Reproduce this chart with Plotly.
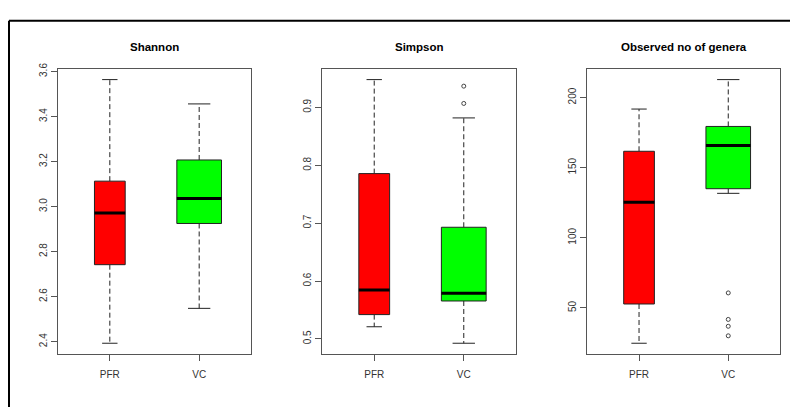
import plotly.graph_objects as go

# ---------------- data ----------------
groups = ["PFR", "VC"]
panel_titles = ["Shannon", "Simpson", "Observed no of genera"]

# five-number summaries per panel: [PFR, VC]
shannon_low = [2.393, 2.548]
shannon_q1 = [2.742, 2.925]
shannon_med = [2.972, 3.036]
shannon_q3 = [3.113, 3.207]
shannon_high = [3.564, 3.456]
shannon_out = [[], []]

simpson_low = [0.521, 0.4925]
simpson_q1 = [0.542, 0.5655]
simpson_med = [0.5847, 0.579]
simpson_q3 = [0.7856, 0.6929]
simpson_high = [0.948, 0.8818]
simpson_out = [[], [0.9068, 0.9367]]

genera_low = [24.8, 131.7]
genera_q1 = [52.8, 135.0]
genera_med = [125.4, 165.9]
genera_q3 = [161.7, 179.4]
genera_high = [191.8, 212.8]
genera_out = [[], [30.1, 36.9, 41.8, 60.7]]

shannon_ticks = [2.4, 2.6, 2.8, 3.0, 3.2, 3.4, 3.6]
simpson_ticks = [0.5, 0.6, 0.7, 0.8, 0.9]
genera_ticks = [50, 100, 150, 200]

# ---------------- styling ----------------
W, H = 790, 407
FILL = ["#ff0000", "#00ff00"]
HALF_W = [0.172, 0.25]          # varwidth boxes
FRAME = "#555555"
TXT = "#333333"
FONT = "Liberation Sans, Arial, sans-serif"

panels = [
    dict(title=panel_titles[0], low=shannon_low, q1=shannon_q1, med=shannon_med,
         q3=shannon_q3, high=shannon_high, out=shannon_out, ticks=shannon_ticks,
         fmt="{:.1f}", px=(58, 251)),
    dict(title=panel_titles[1], low=simpson_low, q1=simpson_q1, med=simpson_med,
         q3=simpson_q3, high=simpson_high, out=simpson_out, ticks=simpson_ticks,
         fmt="{:.1f}", px=(322.3, 515.7)),
    dict(title=panel_titles[2], low=genera_low, q1=genera_q1, med=genera_med,
         q3=genera_q3, high=genera_high, out=genera_out, ticks=genera_ticks,
         fmt="{:d}", px=(587.3, 780)),
]

PLOT_TOP, PLOT_BOT = 64, 353

fig = go.Figure()
layout = dict(
    width=W, height=H, margin=dict(l=0, r=0, t=0, b=0),
    paper_bgcolor="white", plot_bgcolor="white", showlegend=False,
    font=dict(family=FONT, size=10, color=TXT),
)
annotations = []

for i, p in enumerate(panels):
    n = "" if i == 0 else str(i + 1)
    xa, ya = "x" + n, "y" + n
    for g in range(len(groups)):
        c = g + 1
        hw = HALF_W[g]
        # whiskers (dashed)
        fig.add_trace(go.Scatter(
            x=[c, c, None, c, c], y=[p["q3"][g], p["high"][g], None, p["q1"][g], p["low"][g]],
            mode="lines", line=dict(color="#222222", width=1, dash="5px,3px"),
            xaxis=xa, yaxis=ya, hoverinfo="skip"))
        # staples
        fig.add_trace(go.Scatter(
            x=[c - hw / 2, c + hw / 2, None, c - hw / 2, c + hw / 2],
            y=[p["high"][g], p["high"][g], None, p["low"][g], p["low"][g]],
            mode="lines", line=dict(color="#222222", width=1),
            xaxis=xa, yaxis=ya, hoverinfo="skip"))
        # box
        fig.add_trace(go.Scatter(
            x=[c - hw, c + hw, c + hw, c - hw, c - hw],
            y=[p["q1"][g], p["q1"][g], p["q3"][g], p["q3"][g], p["q1"][g]],
            mode="lines", fill="toself", fillcolor=FILL[g],
            line=dict(color="#222222", width=1),
            xaxis=xa, yaxis=ya, hoverinfo="skip"))
        # median
        fig.add_trace(go.Scatter(
            x=[c - hw, c + hw], y=[p["med"][g], p["med"][g]],
            mode="lines", line=dict(color="black", width=3),
            xaxis=xa, yaxis=ya, hoverinfo="skip"))
        # outliers
        if p["out"][g]:
            fig.add_trace(go.Scatter(
                x=[c] * len(p["out"][g]), y=p["out"][g], mode="markers",
                marker=dict(symbol="circle-open", size=4, color="#444444",
                            line=dict(width=1)),
                xaxis=xa, yaxis=ya, hoverinfo="skip"))

    allv = p["low"] + p["high"] + [v for o in p["out"] for v in o]
    lo, hi = min(allv), max(allv)
    pad = (hi - lo) * 0.04
    x0, x1 = p["px"]
    layout["xaxis" + n] = dict(
        domain=[x0 / W, x1 / W], range=[0.42, 2.58], anchor=ya,
        tickvals=[1, 2], ticktext=groups, ticks="outside", ticklen=6,
        tickcolor=FRAME, showline=True, mirror=True, linecolor=FRAME,
        linewidth=1, showgrid=False, zeroline=False, fixedrange=True,
        ticklabelstandoff=5,
        tickfont=dict(size=10, color=TXT, family=FONT),
    )
    layout["yaxis" + n] = dict(
        domain=[1 - PLOT_BOT / H, 1 - PLOT_TOP / H], range=[lo - pad, hi + pad],
        anchor=xa, tickvals=p["ticks"], ticktext=[p["fmt"].format(t) for t in p["ticks"]],
        tickangle=-90, ticks="outside", ticklen=6, tickcolor=FRAME,
        showline=True, mirror=True, linecolor=FRAME, linewidth=1,
        showgrid=False, zeroline=False, fixedrange=True,
        tickfont=dict(size=10, color=TXT, family=FONT),
    )
    annotations.append(dict(
        text="<b>" + p["title"] + "</b>", xref="paper", yref="paper",
        x=(x0 + x1) / 2 / W, y=1 - 42 / H, xanchor="center", yanchor="middle",
        showarrow=False, font=dict(size=11.5, color="black", family=FONT)))

layout["annotations"] = annotations
layout["shapes"] = [
    dict(type="line", xref="paper", yref="paper", x0=9 / W, x1=1.01,
         y0=1 - 15 / H, y1=1 - 15 / H, line=dict(color="black", width=2)),
    dict(type="line", xref="paper", yref="paper", x0=9 / W, x1=9 / W,
         y0=1 - 15 / H, y1=-0.01, line=dict(color="black", width=2)),
]
fig.update_layout(**layout)
fig.write_html("out.html")
